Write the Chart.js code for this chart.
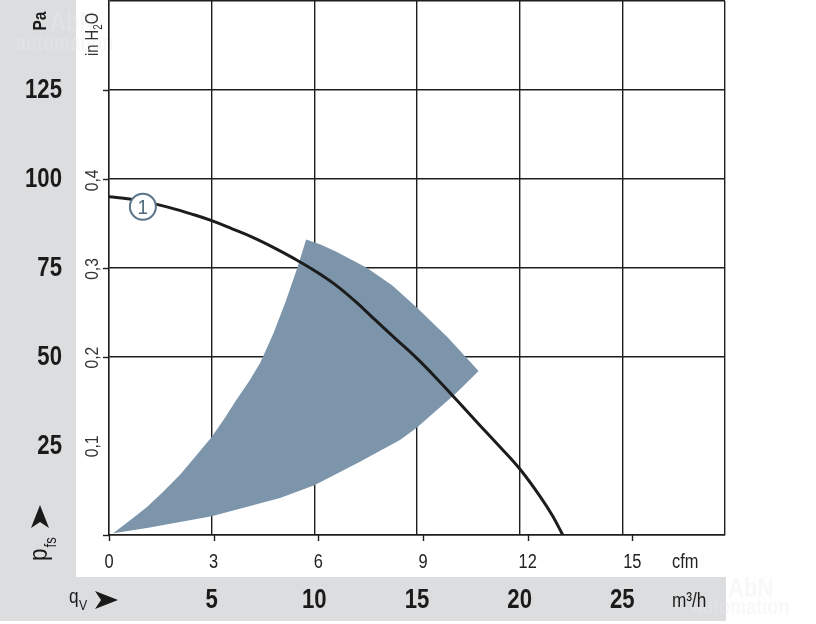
<!DOCTYPE html>
<html lang="de">
<head>
  <meta charset="UTF-8" />
  <title>Kennlinie p_fs / q_V</title>
  <script src="https://cdn.jsdelivr.net/npm/chart.js"></script>
  <style>
    html, body { margin: 0; padding: 0; background: #fff; }
    canvas { display: block; }
  </style>
</head>
<body>
  <canvas id="fanChart" width="816" height="624"></canvas>

  <script>
    // Kennlinie 1 (q_V in m³/h, p_fs in Pa)
    const curveFlow = [0, 1, 2, 3, 4, 5, 6, 7, 8, 9, 10, 11, 12, 13, 14, 15, 16, 17, 18, 19, 20, 21, 21.6, 22.1];
    const curvePa   = [95, 94.4, 93.3, 91.9, 90.2, 88.3, 86, 83.6, 80.8, 77.7, 74.3, 70.4, 65.6, 60.2,
                       54.9, 49.6, 43.7, 37.5, 31.2, 25, 18.6, 10.8, 5.4, 0];

    // Arbeitsbereich (grau-blaue Fläche), Umriss im Uhrzeigersinn
    const areaFlow = [0.2, 1.0, 1.85, 2.65, 3.46, 4.2, 5, 5.6, 6.2, 6.8, 7.36, 8.0, 8.6, 9.17, 9.6,
                      10.3, 11.1, 12.57, 13.8, 15, 16.5, 18,
                      16.9, 15, 14.17, 12.2, 10, 8.33, 5, 1.85, 0.2];
    const areaPa   = [0.5, 4.0, 7.9, 12.2, 16.9, 22, 27.5, 32.5, 37.9, 43, 48.3, 56.5, 65.5, 75, 83,
                      81.6, 79.5, 75, 70.1, 63.8, 55.5, 46.1,
                      39.8, 30.2, 26.7, 20.5, 14, 10.4, 5.3, 2.0, 0.5];

    // Markierung "1"
    const markerFlow = [1.65];
    const markerPa = [92.2];

    // Achsen
    const paTicks = [25, 50, 75, 100, 125];
    const inH2OTicks = [0.1, 0.2, 0.3, 0.4];
    const inH2OLabels = ['0,1', '0,2', '0,3', '0,4'];
    const cfmTicks = [0, 3, 6, 9, 12, 15];
    const m3hTicks = [5, 10, 15, 20, 25];

    const PA_PER_INH2O = 249.089;
    const M3H_PER_CFM = 1.699;
    const FLOW_MAX = 30;
    const PA_MAX = 150;

    const FAMILY = '"Liberation Sans", Arial, sans-serif';
    const INK = '#1e1e1e';
    const GREY_BAND = '#dcdddf';

    const toPoints = (xs, ys) => xs.map((x, i) => ({ x, y: ys[i] }));

    // schmal gezeichneter Text (Helvetica Condensed nachgeahmt)
    function txt(c, s, x, y, font, opts = {}) {
      const { align = 'left', baseline = 'alphabetic', rot = 0, sx = 0.82 } = opts;
      c.save();
      c.translate(x, y);
      if (rot) c.rotate(rot);
      c.scale(sx, 1);
      c.font = font;
      c.textAlign = align;
      c.textBaseline = baseline;
      c.fillText(s, 0, 0);
      const w = c.measureText(s).width * sx;
      c.restore();
      return w;
    }

    const backgroundPlugin = {
      id: 'bg',
      beforeDraw(chart) {
        const c = chart.ctx;
        c.save();
        c.fillStyle = '#fff';
        c.fillRect(0, 0, chart.width, chart.height);
        c.fillStyle = GREY_BAND;
        c.fillRect(0, 0, 76, 577);
        c.fillRect(0, 577, 726, 44);
        // Wasserzeichen
        c.fillStyle = 'rgba(236,236,236,0.35)';
        txt(c, 'AbN', 50, 31, 'bold 27px ' + FAMILY);
        txt(c, 'automation', 16, 50, 'bold 22px ' + FAMILY);
        txt(c, 'AbN', 728, 597, 'bold 27px ' + FAMILY);
        txt(c, 'automation', 692, 614, 'bold 22px ' + FAMILY);
        c.restore();
      }
    };

    const labelsPlugin = {
      id: 'labels',
      afterDraw(chart) {
        const c = chart.ctx;
        const { x, y, x2, y2 } = chart.scales;
        const area = chart.chartArea;
        const UP = -Math.PI / 2;
        c.save();
        c.strokeStyle = INK;
        c.fillStyle = INK;
        c.lineWidth = 1.4;

        // kleine Striche links der Fläche
        [0, 50, 75, 100, 125].forEach(v => {
          const py = Math.round(y.getPixelForValue(v)) + 0.5;
          c.beginPath();
          c.moveTo(103, py);
          c.lineTo(area.left, py);
          c.stroke();
        });
        // cfm-Striche unten
        cfmTicks.forEach(v => {
          const px = Math.round(x2.getPixelForValue(v)) + 0.5;
          c.beginPath();
          c.moveTo(px, area.bottom);
          c.lineTo(px, area.bottom + 6);
          c.stroke();
        });

        // Pa-Beschriftung
        c.fillStyle = '#1a1a1a';
        paTicks.forEach(v => txt(c, String(v), 62, y.getPixelForValue(v) + 1, 'bold 27px ' + FAMILY,
          { align: 'right', baseline: 'middle' }));
        txt(c, 'Pa', 41, 21, 'bold 19px ' + FAMILY, { align: 'center', baseline: 'middle', rot: UP });

        // in H2O-Beschriftung
        c.fillStyle = '#333';
        inH2OTicks.forEach((v, i) => {
          txt(c, inH2OLabels[i], 93, y2.getPixelForValue(v), '19px ' + FAMILY,
            { align: 'center', baseline: 'middle', rot: UP });
        });

        // Einheit "in H2O"
        c.save();
        c.translate(98, 56);
        c.rotate(UP);
        let w = txt(c, 'in H', 0, 0, '18px ' + FAMILY);
        w += txt(c, '2', w, 4, '12px ' + FAMILY);
        txt(c, 'O', w, 0, '18px ' + FAMILY);
        c.restore();

        // cfm-Beschriftung
        c.fillStyle = '#222';
        cfmTicks.forEach(v => txt(c, String(v), x2.getPixelForValue(v), 562, '20px ' + FAMILY,
          { align: 'center', baseline: 'middle' }));
        txt(c, 'cfm', 672, 562, '20px ' + FAMILY, { baseline: 'middle' });

        // m³/h-Beschriftung
        c.fillStyle = '#1a1a1a';
        m3hTicks.forEach(v => txt(c, String(v), x.getPixelForValue(v), 601, 'bold 27px ' + FAMILY,
          { align: 'center', baseline: 'middle' }));
        txt(c, 'm³/h', 672, 601, '21px ' + FAMILY, { baseline: 'middle' });

        // q_V mit Pfeil
        txt(c, 'q', 69, 603, '21px ' + FAMILY);
        txt(c, 'V', 79, 610, '15px ' + FAMILY);
        c.beginPath();
        c.moveTo(118, 600);
        c.lineTo(95, 591);
        c.lineTo(101, 600);
        c.lineTo(95, 609);
        c.closePath();
        c.fill();

        // p_fs mit Pfeil
        c.save();
        c.translate(47, 561);
        c.rotate(UP);
        const pw = txt(c, 'p', 0, 0, '25px ' + FAMILY, { sx: 0.9 });
        txt(c, 'fs', pw + 1, 9, '16px ' + FAMILY);
        c.restore();
        c.beginPath();
        c.moveTo(40, 505);
        c.lineTo(31, 528);
        c.lineTo(40, 522);
        c.lineTo(49, 528);
        c.closePath();
        c.fill();

        // Kennlinien-Nummer
        const m = chart.getDatasetMeta(2).data[0];
        c.fillStyle = '#4f6779';
        txt(c, '1', m.x, m.y + 1, '21px ' + FAMILY, { align: 'center', baseline: 'middle', sx: 0.9 });

        c.restore();
      }
    };

    const zeroSize = s => {
      s.width = 0; s.height = 0;
      s.paddingTop = 0; s.paddingBottom = 0; s.paddingLeft = 0; s.paddingRight = 0;
    };

    const fanChart = new Chart(document.getElementById('fanChart').getContext('2d'), {
      type: 'scatter',
      data: {
        datasets: [
          {
            label: 'Kennlinie 1',
            data: toPoints(curveFlow, curvePa),
            showLine: true,
            borderColor: '#1c1c1c',
            borderWidth: 3,
            pointRadius: 0,
            tension: 0.4,
            order: 2
          },
          {
            label: 'Arbeitsbereich',
            data: toPoints(areaFlow, areaPa),
            showLine: true,
            borderColor: 'rgba(0,0,0,0)',
            borderWidth: 0,
            backgroundColor: '#7c95ab',
            fill: 'shape',
            pointRadius: 0,
            tension: 0,
            order: 3
          },
          {
            label: 'Nr.',
            data: toPoints(markerFlow, markerPa),
            showLine: false,
            pointRadius: 13,
            pointBorderWidth: 2,
            pointBackgroundColor: '#fff',
            pointBorderColor: '#5c7488',
            order: 1
          }
        ]
      },
      options: {
        responsive: false,
        animation: false,
        layout: { autoPadding: false, padding: { left: 109, right: 91, top: 1, bottom: 89 } },
        plugins: { legend: { display: false }, tooltip: { enabled: false } },
        scales: {
          x: {
            type: 'linear', position: 'bottom', min: 0, max: FLOW_MAX,
            ticks: { stepSize: 5, display: false },
            grid: { color: INK, lineWidth: 1.4, drawTicks: false },
            border: { display: true, color: INK, width: 1.4 },
            afterFit: zeroSize
          },
          y: {
            type: 'linear', position: 'left', min: 0, max: PA_MAX,
            ticks: { stepSize: 25, display: false },
            grid: {
              color: ctx => (ctx.tick && ctx.tick.value === 25) ? 'rgba(0,0,0,0)' : INK,
              lineWidth: 1.4, drawTicks: false
            },
            border: { display: true, color: INK, width: 1.4 },
            afterFit: zeroSize
          },
          x2: {
            type: 'linear', position: 'bottom', display: false,
            min: 0, max: FLOW_MAX / M3H_PER_CFM
          },
          y2: {
            type: 'linear', position: 'left', display: false,
            min: 0, max: PA_MAX / PA_PER_INH2O
          }
        }
      },
      plugins: [backgroundPlugin, labelsPlugin]
    });
  </script>
</body>
</html>
